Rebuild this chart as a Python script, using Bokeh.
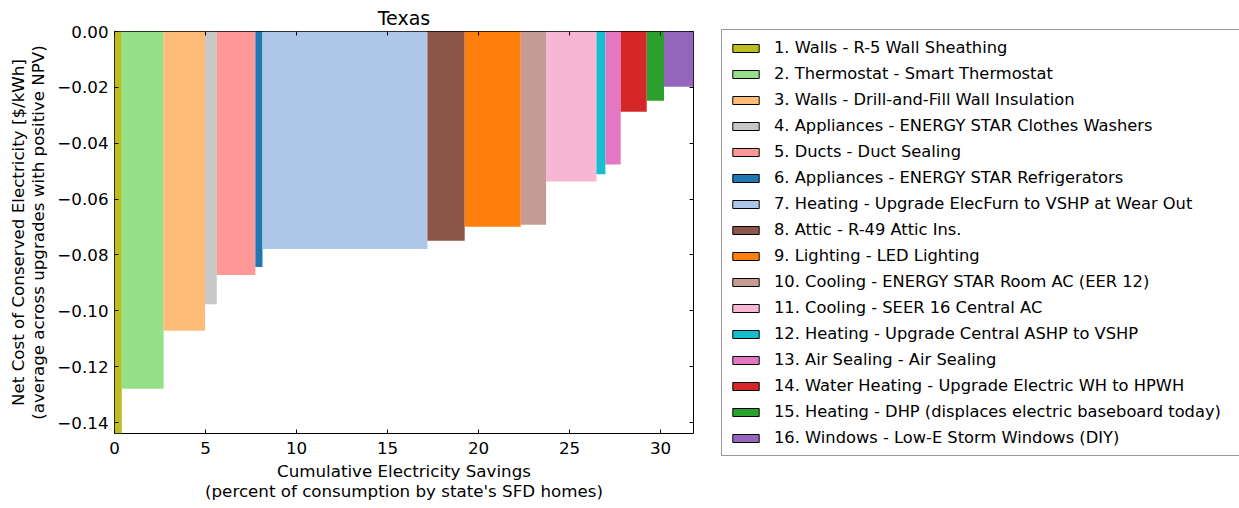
import numpy as np
from bokeh.plotting import figure
from bokeh.layouts import row
from bokeh.models import (ColumnDataSource, Range1d, FixedTicker, LinearAxis,
                          Legend, LegendItem, CustomJSTickFormatter)
from bokeh.embed import file_html
from bokeh.resources import INLINE

# ---------------- data ----------------
labels = [
    "1. Walls - R-5 Wall Sheathing",
    "2. Thermostat - Smart Thermostat",
    "3. Walls - Drill-and-Fill Wall Insulation",
    "4. Appliances - ENERGY STAR Clothes Washers",
    "5. Ducts - Duct Sealing",
    "6. Appliances - ENERGY STAR Refrigerators",
    "7. Heating - Upgrade ElecFurn to VSHP at Wear Out",
    "8. Attic - R-49 Attic Ins.",
    "9. Lighting - LED Lighting",
    "10. Cooling - ENERGY STAR Room AC (EER 12)",
    "11. Cooling - SEER 16 Central AC",
    "12. Heating - Upgrade Central ASHP to VSHP",
    "13. Air Sealing - Air Sealing",
    "14. Water Heating - Upgrade Electric WH to HPWH",
    "15. Heating - DHP (displaces electric baseboard today)",
    "16. Windows - Low-E Storm Windows (DIY)",
]
savings = [0.40, 2.30, 2.27, 0.65, 2.12, 0.39, 9.06, 2.05,
           3.08, 1.39, 2.77, 0.49, 0.84, 1.43, 0.95, 1.62]
net_cost = [-0.1439, -0.1279, -0.1071, -0.0976, -0.0872, -0.0843, -0.0779, -0.0749,
            -0.0699, -0.0692, -0.0537, -0.0511, -0.0476, -0.0287, -0.0248, -0.0198]
colors = ["#bcbd22", "#98df8a", "#ffbb78", "#c7c7c7", "#ff9896", "#1f77b4",
          "#aec7e8", "#8c564b", "#ff7f0e", "#c49c94", "#f7b6d2", "#17becf",
          "#e377c2", "#d62728", "#2ca02c", "#9467bd"]
x_ticks = [0, 5, 10, 15, 20, 25, 30]
y_ticks = [0.0, -0.02, -0.04, -0.06, -0.08, -0.10, -0.12, -0.14]

right_edges = np.cumsum(savings)
left_edges = right_edges - np.array(savings)

FONT = "DejaVu Sans"
FS = "16.7px"

p = figure(width=713, height=503, output_backend="svg", toolbar_location=None,
           x_range=Range1d(0, float(right_edges[-1])),
           y_range=Range1d(float(min(net_cost)), 0.0),
           min_border_left=114, min_border_top=31, min_border_bottom=70,
           min_border_right=20, title="Texas")
p.title.align = "center"
p.title.text_font = FONT
p.title.text_font_size = "19px"
p.title.text_font_style = "normal"
p.title.text_color = "#000000"
p.title.standoff = 5
p.grid.visible = False
p.outline_line_color = "#000000"
p.outline_line_width = 1
p.outline_line_alpha = 1
p.background_fill_color = "#ffffff"

src = ColumnDataSource(dict(left=left_edges, right=right_edges,
                            top=np.zeros(len(savings)), bottom=net_cost,
                            color=colors))
p.quad(left="left", right="right", top="top", bottom="bottom", source=src,
       fill_color="color", line_color=None)


def style_axis(ax):
    ax.axis_line_color = None
    ax.major_tick_in = 4
    ax.major_tick_out = 0
    ax.minor_tick_line_color = None
    ax.major_tick_line_color = "#000000"
    ax.major_label_text_font = FONT
    ax.major_label_text_font_size = FS
    ax.major_label_text_color = "#000000"
    ax.axis_label_text_font = FONT
    ax.axis_label_text_font_size = FS
    ax.axis_label_text_font_style = "normal"
    ax.axis_label_text_color = "#000000"
    ax.axis_label_text_line_height = 1.0

blank = CustomJSTickFormatter(code="return '';")

xa = p.xaxis[0]
xa.ticker = FixedTicker(ticks=x_ticks)
xa.axis_label = "Cumulative Electricity Savings\n(percent of consumption by state's SFD homes)"
xa.major_label_standoff = 8
xa.axis_label_standoff = 4
style_axis(xa)

ya = p.yaxis[0]
ya.ticker = FixedTicker(ticks=y_ticks)
ya.formatter = CustomJSTickFormatter(
    code="return (tick < -1e-9 ? '\\u2212' : '') + Math.abs(tick).toFixed(2);")
ya.axis_label = "Net Cost of Conserved Electricity [$/kWh]\n(average across upgrades with positive NPV)"
ya.major_label_standoff = 6
ya.axis_label_standoff = 6
style_axis(ya)

top_ax = LinearAxis(ticker=FixedTicker(ticks=x_ticks), formatter=blank, major_label_standoff=0)
style_axis(top_ax)
p.add_layout(top_ax, "above")
right_ax = LinearAxis(ticker=FixedTicker(ticks=y_ticks), formatter=blank, major_label_standoff=0)
style_axis(right_ax)
p.add_layout(right_ax, "right")

# ---------------- legend panel ----------------
q = figure(width=526, height=503, output_backend="svg", toolbar_location=None,
           x_axis_type=None, y_axis_type=None,
           min_border_left=0, min_border_right=0, min_border_top=21, min_border_bottom=0)
q.grid.visible = False
q.outline_line_color = None
try:
    p.frame_align = False
    q.frame_align = False
except Exception:
    pass
proxy = q.quad(left="left", right="right", top="top", bottom="bottom", source=src,
               fill_color="color", line_color="#000000", line_width=1)
proxy.visible = False
items = [LegendItem(label=lab, renderers=[proxy], index=i) for i, lab in enumerate(labels)]
legend = Legend(items=items, location="top_left", margin=8, padding=7,
                spacing=5, label_height=21, glyph_height=10, glyph_width=33,
                label_standoff=12, label_width=458,
                label_text_font=FONT, label_text_font_size="16.3px",
                label_text_color="#000000", border_line_color="#333333",
                border_line_width=1, background_fill_alpha=1,
                inactive_fill_alpha=0)
q.add_layout(legend, "center")

layout = row(p, q)
open("out.html", "w").write(file_html(layout, INLINE))
